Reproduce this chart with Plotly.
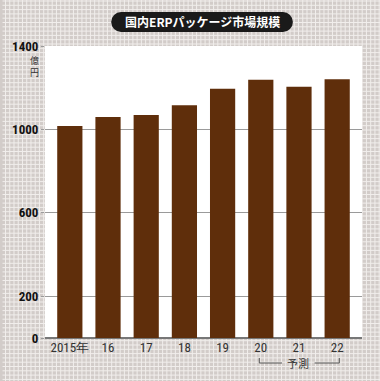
import plotly.graph_objects as go

categories = ["2015年", "16", "17", "18", "19", "20", "21", "22"]
values = [1016, 1060, 1069, 1116, 1195, 1238, 1205, 1240]
ytick_vals = [0, 200, 600, 1000, 1400]
ytick_text = ["0", "200", "600", "1000", "1400"]
title_text = "国内ERPパッケージ市場規模"
unit_chars = ["億", "円"]
forecast_text = "予測"

W, H = 380, 381
L, R, T, B = 41, 18, 46, 43
PW, PH = W - L - R, H - T - B


def px(x):
    return (x - L) / PW


def py(y):
    return (H - B - y) / PH


xs = list(range(len(categories)))

fig = go.Figure()
fig.add_trace(go.Bar(
    x=xs, y=values, marker=dict(color="#5f2e0b", line=dict(width=0)),
    width=0.66, hoverinfo="skip", showlegend=False,
))

shapes = []
# graph-paper background
step = 4.3
segs = []
v = 1.0
while v < W:
    segs.append(f"M{px(v):.5f},{py(-2):.5f}L{px(v):.5f},{py(H + 2):.5f}")
    v += step
v = 1.0
while v < H:
    segs.append(f"M{px(-2):.5f},{py(v):.5f}L{px(W + 2):.5f},{py(v):.5f}")
    v += step
shapes.append(dict(type="path", xref="paper", yref="paper", path="".join(segs),
                   line=dict(color="#f1eeec", width=1), layer="below"))
# white plot area
shapes.append(dict(type="rect", xref="paper", yref="paper", x0=0, x1=1, y0=0, y1=1,
                   fillcolor="white", line=dict(width=0), layer="below"))
# title pill
r = 10
tx0, tx1, ty0, ty1 = 108, 292, 12, 32
shapes.append(dict(type="rect", xref="paper", yref="paper",
                   x0=px(tx0 + r), x1=px(tx1 - r), y0=py(ty1), y1=py(ty0),
                   fillcolor="#1a1a1a", line=dict(width=0)))
for cx in (tx0 + r, tx1 - r):
    shapes.append(dict(type="circle", xref="paper", yref="paper",
                       x0=px(cx - r), x1=px(cx + r), y0=py(ty1), y1=py(ty0),
                       fillcolor="#1a1a1a", line=dict(width=0)))
# forecast bracket
by_top, by_bot = 358, 363
for path in [
    f"M{px(258):.5f},{py(by_top):.5f}L{px(258):.5f},{py(by_bot):.5f}L{px(281):.5f},{py(by_bot):.5f}",
    f"M{px(314):.5f},{py(by_bot):.5f}L{px(339):.5f},{py(by_bot):.5f}L{px(339):.5f},{py(by_top):.5f}",
]:
    shapes.append(dict(type="path", xref="paper", yref="paper", path=path,
                       line=dict(color="#555555", width=1)))

annotations = [
    dict(text=title_text, x=px(200), y=py(22), xref="paper", yref="paper",
         showarrow=False, xanchor="center", yanchor="middle",
         font=dict(family="Noto Sans CJK JP", size=12, color="white", weight="bold")),
    dict(text=forecast_text, x=px(297), y=py(363), xref="paper", yref="paper",
         showarrow=False, xanchor="center", yanchor="middle",
         font=dict(family="Noto Sans CJK JP", size=11, color="#333333")),
]
for i, ch in enumerate(unit_chars):
    annotations.append(dict(
        text=ch, x=px(30), y=py(60.5 + 12 * i), xref="paper", yref="paper",
        showarrow=False, xanchor="center", yanchor="middle", borderpad=0,
        font=dict(family="Noto Sans CJK JP", size=9, color="#333333")))

tick_family = "Liberation Sans Narrow, Roboto Condensed, DejaVu Sans Condensed, Liberation Sans"

fig.update_layout(
    width=W, height=H,
    margin=dict(l=L, r=R, t=T, b=B, pad=0),
    paper_bgcolor="#d2ccc9",
    plot_bgcolor="rgba(0,0,0,0)",
    shapes=shapes,
    annotations=annotations,
    bargap=0.34,
    xaxis=dict(
        range=[-0.65, 7.65], tickvals=xs, ticktext=categories,
        showgrid=False, zeroline=False, showline=False, ticks="",
        tickfont=dict(family=tick_family, size=13, color="#333333"),
        fixedrange=True,
    ),
    yaxis=dict(
        range=[0, 1400], tickvals=ytick_vals, ticktext=ytick_text,
        showgrid=True, gridcolor="#9a9a9a", gridwidth=1,
        zeroline=True, zerolinecolor="#777777", zerolinewidth=1.5,
        showline=False, ticks="outside", ticklen=3, tickcolor="#9a9a9a",
        tickfont=dict(family=tick_family, size=13, color="#111111", weight="bold"),
        fixedrange=True,
    ),
)

fig.write_html(
    "out.html",
    config=dict(displayModeBar=False),
    post_script="document.body.style.margin='0';document.body.style.overflow='hidden';",
)
